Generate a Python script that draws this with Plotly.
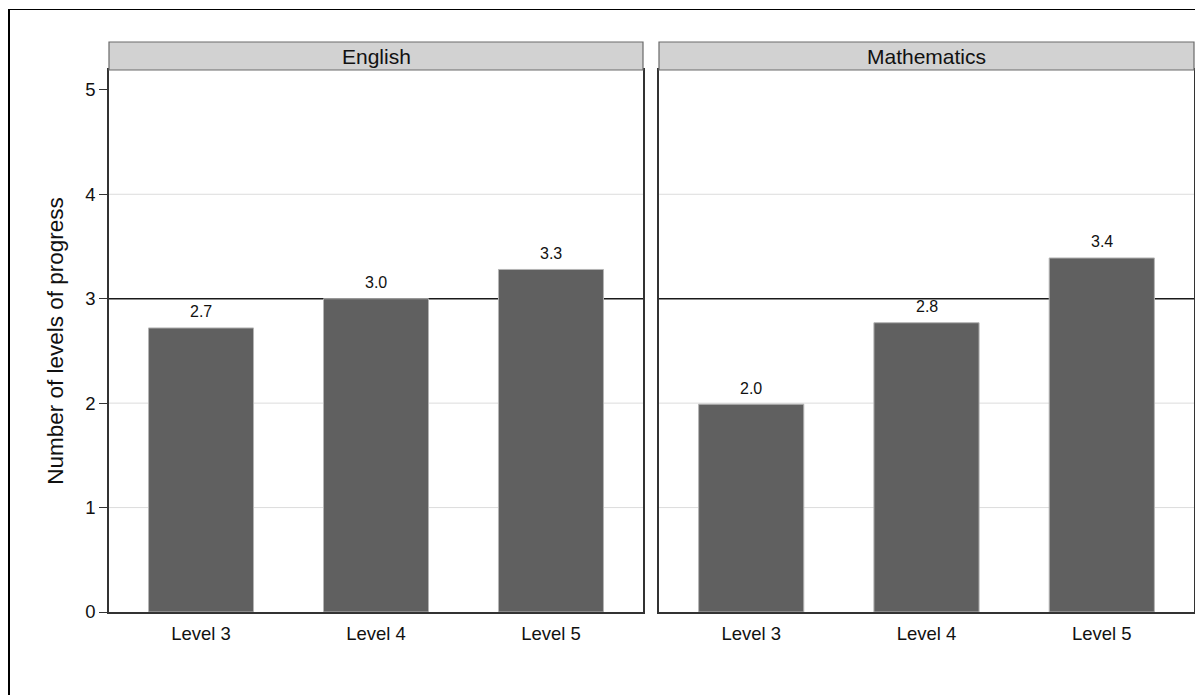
import plotly.graph_objects as go

# ---- data ----
categories = ["Level 3", "Level 4", "Level 5"]
panels = ["English", "Mathematics"]
english_values = [2.72, 3.00, 3.28]
maths_values = [1.99, 2.77, 3.39]
y_ticks = [0, 1, 2, 3, 4, 5]
grid_values = [1, 2, 4]
reference_value = 3
y_title = "Number of levels of progress"

# page has an 8px body margin, so the figure is 8px smaller than the window
OFF = 8
W, H = 1203 - OFF, 695 - OFF
FONT = "Liberation Sans, Arial, sans-serif"

def px_x(p):
    return (p - OFF) / W

def px_y(p):
    return 1 - (p - OFF) / H

x_domains = [[px_x(109), px_x(643)], [px_x(659), px_x(1194)]]
y_domain = [px_y(612), px_y(70)]
strip_y = [px_y(70), px_y(42)]

fig = go.Figure()
series = [english_values, maths_values]
shapes = []
annotations = []
for i, (name, vals) in enumerate(zip(panels, series)):
    xa = "x" if i == 0 else "x2"
    ya = "y" if i == 0 else "y2"
    fig.add_trace(go.Bar(
        x=categories, y=vals, xaxis=xa, yaxis=ya, width=0.6,
        marker=dict(color="#606060", line=dict(color="#b4b4b4", width=1)),
        showlegend=False, hoverinfo="skip",
    ))
    for c, v in zip(categories, vals):
        annotations.append(dict(
            x=c, y=v, xref=xa, yref=ya, text=f"{v:.1f}", showarrow=False,
            yanchor="middle", yshift=16,
            font=dict(family=FONT, size=16, color="#111"),
        ))
    dref = xa + " domain"
    for g in grid_values:
        shapes.append(dict(type="line", xref=dref, yref=ya, x0=0, x1=1, y0=g, y1=g,
                           line=dict(color="#dcdcdc", width=1), layer="below"))
    shapes.append(dict(type="line", xref=dref, yref=ya, x0=0, x1=1,
                       y0=reference_value, y1=reference_value,
                       line=dict(color="#1a1a1a", width=1.5), layer="below"))
    shapes.append(dict(type="rect", xref=dref, yref="paper", x0=0, x1=1,
                       y0=strip_y[0], y1=strip_y[1],
                       fillcolor="#d2d2d2", line=dict(color="#6a6a6a", width=1.2)))
    annotations.append(dict(
        x=0.5, y=(strip_y[0] + strip_y[1]) / 2, xref=dref, yref="paper",
        text=name, showarrow=False, xanchor="center", yanchor="middle",
        font=dict(family=FONT, size=21, color="#111"),
    ))

# outer frame (top and left)
shapes.append(dict(type="line", xref="paper", yref="paper", x0=px_x(7), x1=1,
                   y0=px_y(9.5), y1=px_y(9.5), line=dict(color="#000", width=1)))
shapes.append(dict(type="line", xref="paper", yref="paper", x0=px_x(9), x1=px_x(9),
                   y0=0, y1=px_y(9), line=dict(color="#000", width=2)))

axis_common = dict(showgrid=False, zeroline=False, showline=True, linecolor="#333",
                   linewidth=1.5, mirror=True, automargin=False)

layout = dict(
    width=W, height=H,
    margin=dict(l=0, r=0, t=0, b=0, pad=0),
    paper_bgcolor="white", plot_bgcolor="white",
    font=dict(family=FONT, color="#111"),
    shapes=shapes, annotations=annotations,
)
for i in range(2):
    sfx = "" if i == 0 else "2"
    layout["xaxis" + sfx] = dict(
        domain=x_domains[i], anchor="y" + sfx, type="category",
        range=[-0.526, 2.526], ticks="", ticklabelstandoff=4,
        tickfont=dict(family=FONT, size=18.5, color="#111"), **axis_common,
    )
    layout["yaxis" + sfx] = dict(
        domain=y_domain, anchor="x" + sfx, range=[0, 5.19],
        tickvals=y_ticks, **axis_common,
    )
layout["yaxis"].update(
    ticks="outside", ticklen=8, tickcolor="#333", tickwidth=1.2,
    tickfont=dict(family=FONT, size=18.5, color="#111"),
    title=dict(text=y_title, font=dict(family=FONT, size=22.5, color="#111"), standoff=15),
)
layout["yaxis2"].update(showticklabels=False, ticks="", matches="y")

fig.update_layout(**layout)
fig.write_html("out.html")
